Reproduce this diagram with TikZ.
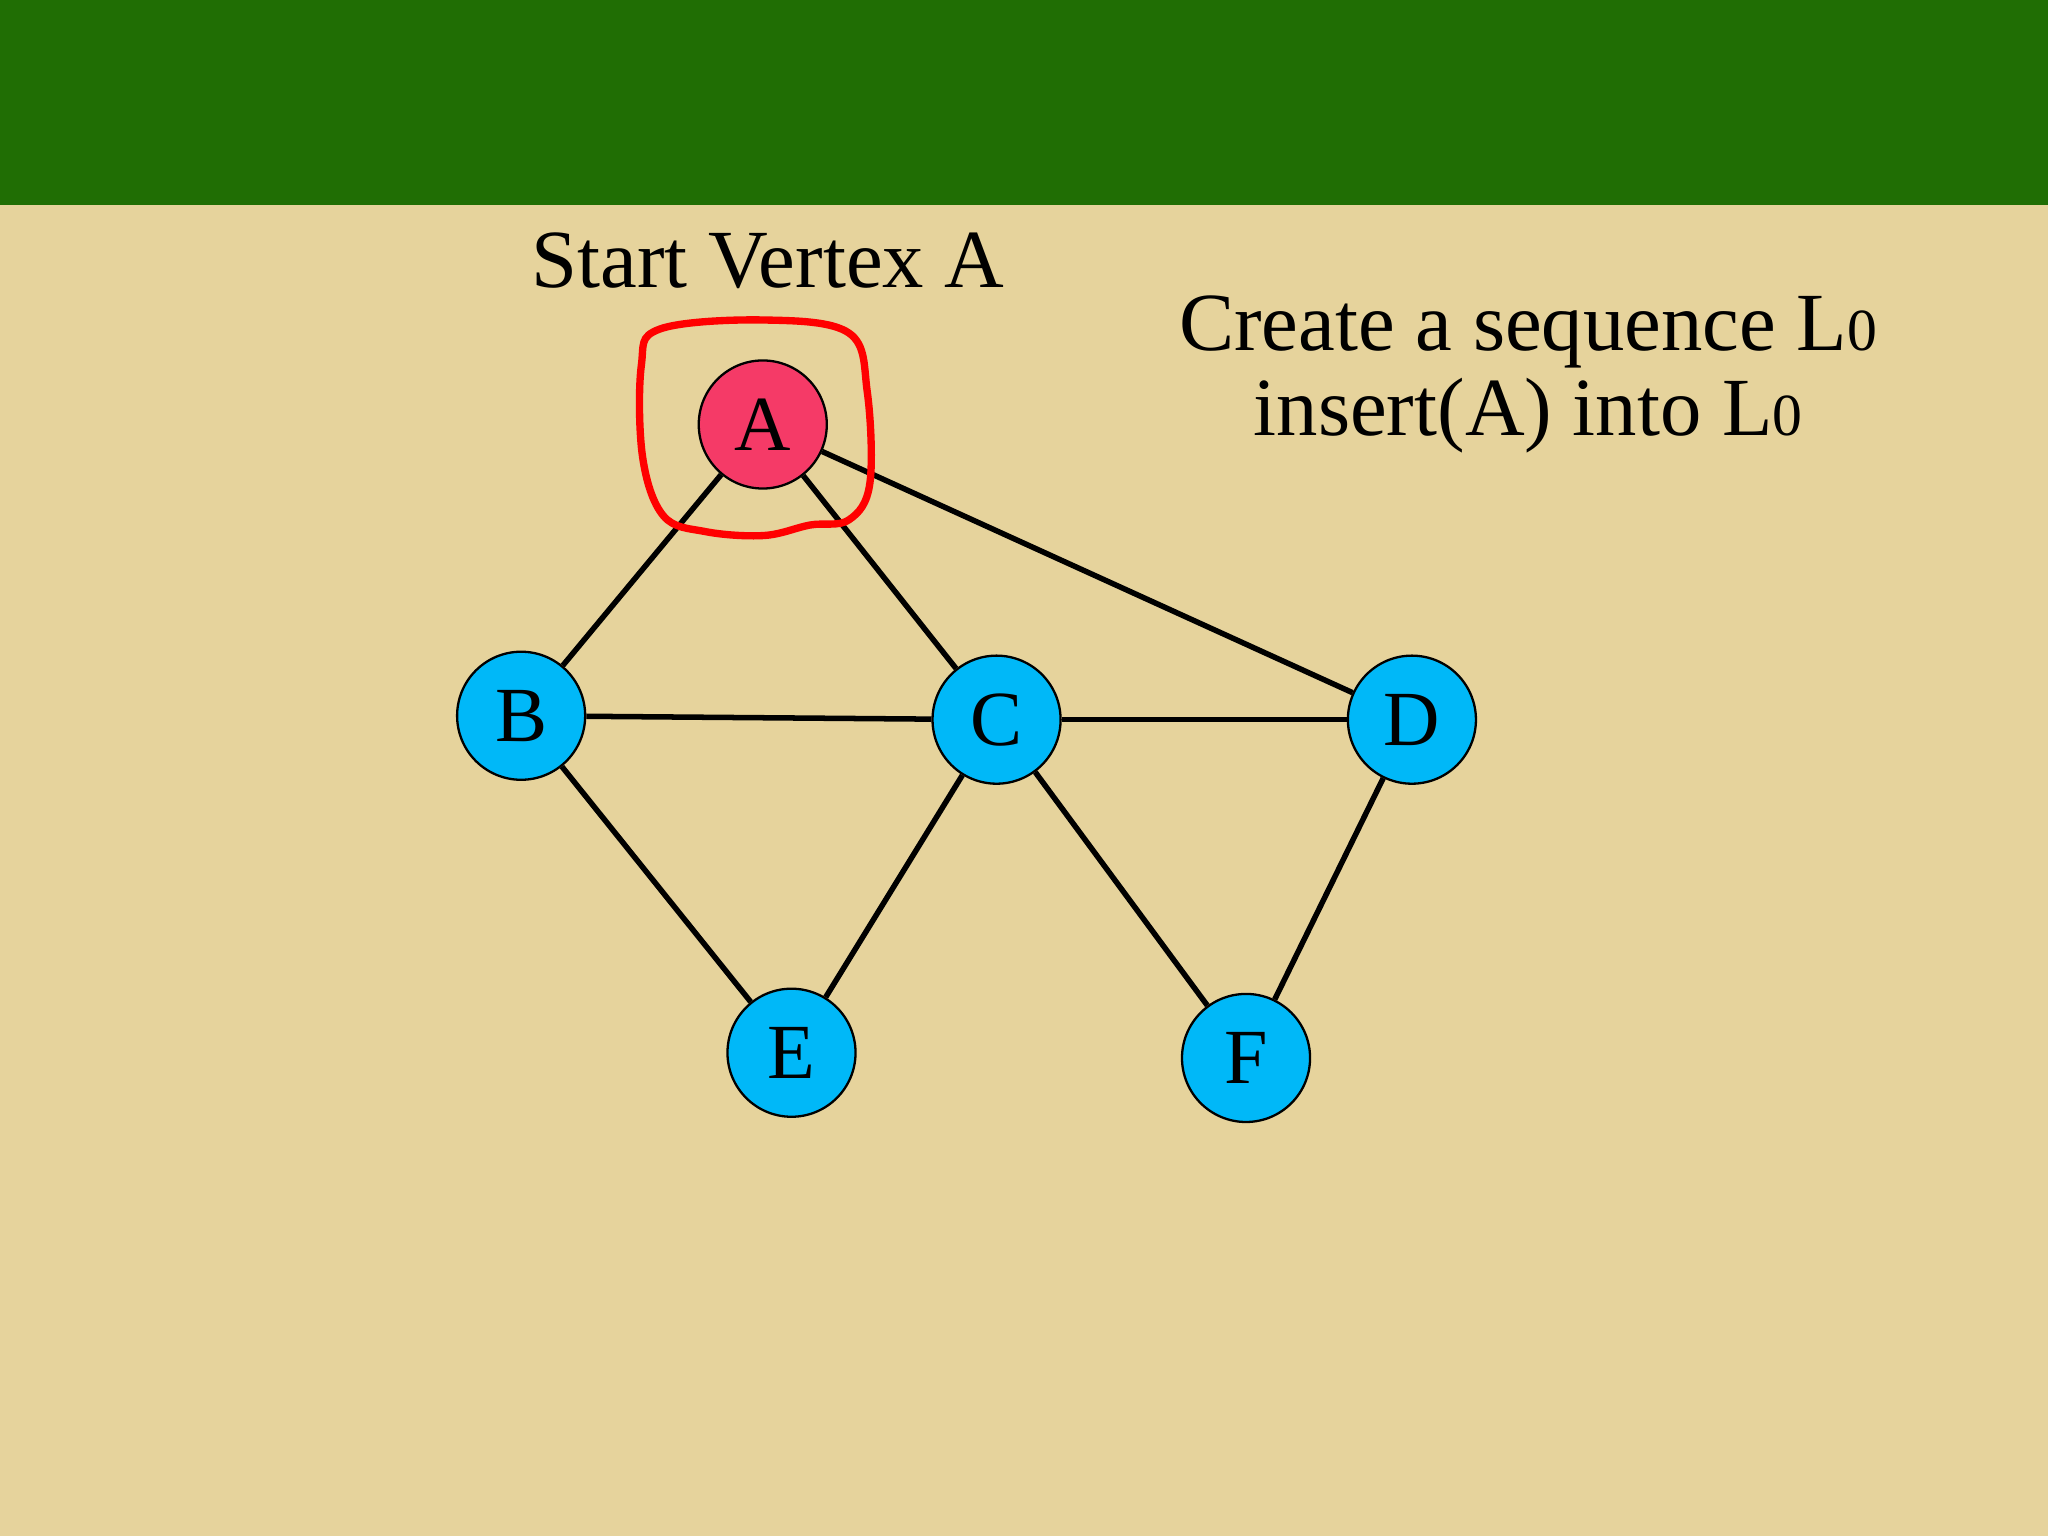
\documentclass[tikz,border=0pt]{standalone}
\usepackage{fontspec}
\setmainfont{Liberation Serif}
\begin{document}
\begin{tikzpicture}[x=0.01cm,y=-0.01cm,
  vtx/.style={circle,draw=black,line width=0.5pt,minimum size=0.98cm,inner sep=0pt,fill=cyan!80!blue!70,font=\fontsize{17}{20}\selectfont},
  edge/.style={line width=1.2pt}]
\definecolor{bg}{HTML}{E6D39C}
\definecolor{band}{HTML}{206E04}
\definecolor{vblue}{HTML}{00B8F8}
\definecolor{vred}{HTML}{F53A67}
\fill[bg] (0,0) rectangle (1568,1176);
\fill[band] (0,0) rectangle (1568,157);
\useasboundingbox (0,0) rectangle (1568,1176);
\node[vtx,fill=vred] (A) at (584,325) {A};
\node[vtx,fill=vblue] (B) at (399,548) {B};
\node[vtx,fill=vblue] (C) at (763,551) {C};
\node[vtx,fill=vblue] (D) at (1081,551) {D};
\node[vtx,fill=vblue] (E) at (606,806) {E};
\node[vtx,fill=vblue] (F) at (954,810) {F};
\draw[edge] (A) -- (B); \draw[edge] (A) -- (C); \draw[edge] (A) -- (D);
\draw[edge] (B) -- (C); \draw[edge] (C) -- (D);
\draw[edge] (B) -- (E); \draw[edge] (C) -- (E);
\draw[edge] (C) -- (F); \draw[edge] (D) -- (F);
\draw[red,line width=1.6pt,line cap=round] plot[smooth cycle,tension=0.6] coordinates
  {(585,245) (650,255) (664,300) (666,370) (650,398) (620,402) (585,410) (540,407) (508,395) (492,350) (491,280) (505,252)};
\node[font=\fontsize{18}{21}\selectfont] (t1) at (588,200) {Start Vertex A};
\node[font=\fontsize{18}{21}\selectfont] (t2) at (1170,254) {Create a sequence L{\fontsize{13}{15}\selectfont 0}};
\node[font=\fontsize{18}{21}\selectfont] (t3) at (1170,318) {insert(A) into L{\fontsize{13}{15}\selectfont 0}};
\end{tikzpicture}
\end{document}
